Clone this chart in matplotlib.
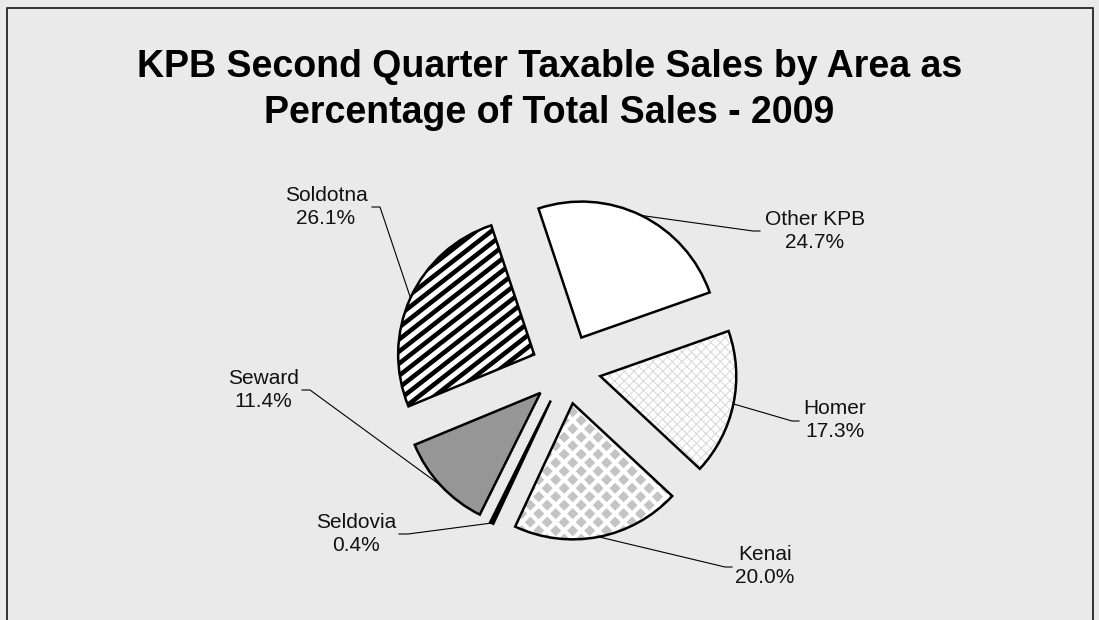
import numpy as np
import matplotlib.pyplot as plt
from matplotlib.patches import Wedge
from matplotlib.collections import LineCollection

# data
areas = ['Other KPB', 'Homer', 'Kenai', 'Seldovia', 'Seward', 'Soldotna']
shares = [24.7, 17.3, 20.0, 0.4, 11.4, 26.1]
title_lines = ['KPB Second Quarter Taxable Sales by Area as',
               'Percentage of Total Sales - 2009']

W, H = 1099, 620          # figure in pixels, axes use pixel units
BG = '#eaeaea'

# label block centres / leader elbows / tail ends (image pixels, y down)
label_pos = [(815, 231), (835, 420), (765, 566), (356, 534), (263, 390), (326, 207)]
elbows = [(753, 231), (792, 421), (725, 567), (408, 534), (310, 390), (380, 207)]
tail_x = [760, 799, 732, 399, 302, 372]

faces = ['white', 'white', '#c4c4c4', 'black', '#969696', 'white']

plt.rcParams['font.family'] = ['Liberation Sans', 'DejaVu Sans']


def hatch_lines(ax, wedge, angle, gap, lw, color):
    # parallel lines clipped to a wedge (fake excel fill pattern)
    cx, cy = wedge.center
    r = wedge.r
    a = np.radians(angle)
    u = np.array([np.cos(a), np.sin(a)])
    n = np.array([-np.sin(a), np.cos(a)])
    c = np.array([cx, cy])
    m = int(np.ceil(r / gap)) + 1
    segs = [[c + k * gap * n - 1.2 * r * u, c + k * gap * n + 1.2 * r * u]
            for k in range(-m, m + 1)]
    lc = LineCollection(segs, colors=color, linewidths=lw, zorder=2)
    ax.add_collection(lc)
    lc.set_clip_path(wedge)


fig = plt.figure(figsize=(W / 100, H / 100), dpi=100, facecolor=BG)
ax = fig.add_axes([0, 0, 1, 1])

wedges, _ = ax.pie(shares, startangle=108.4, counterclock=False, radius=136,
                   center=(566, H - 369), explode=[35] * len(shares),
                   colors=faces, wedgeprops=dict(edgecolor='none', linewidth=0))
ax.set_xlim(0, W)
ax.set_ylim(0, H)
ax.set_aspect('auto')
ax.axis('off')

# fill patterns
hatch_lines(ax, wedges[1], 45, 6.8, 0.6, '#cfcfcf')
hatch_lines(ax, wedges[1], -45, 6.8, 0.6, '#cfcfcf')
hatch_lines(ax, wedges[2], 45, 12, 3.0, 'white')
hatch_lines(ax, wedges[2], -45, 12, 3.0, 'white')
hatch_lines(ax, wedges[5], 38, 9.5, 3.3, 'black')

# outlines on top
for w in wedges:
    ax.add_patch(Wedge(w.center, w.r, w.theta1, w.theta2, fill=False,
                       edgecolor='black', linewidth=1.8, zorder=3))

# labels with leader lines from the middle of each arc
for w, name, val, (lx, ly), (ex, ey), tx in zip(wedges, areas, shares,
                                                label_pos, elbows, tail_x):
    tm = np.radians((w.theta1 + w.theta2) / 2)
    sx = w.center[0] + w.r * np.cos(tm)
    sy = w.center[1] + w.r * np.sin(tm)
    ax.plot([sx, ex, tx], [sy, H - ey, H - ey], color='black', lw=0.8, zorder=4)
    ax.text(lx, H - ly, '%s\n%.1f%%' % (name, val), ha='center', va='center',
            fontsize=15, linespacing=1.3, color='#111111')

# title
fig.text(0.5, 1 - 77 / H, title_lines[0], ha='center', va='baseline',
         fontsize=27, fontweight='bold')
fig.text(0.5, 1 - 123 / H, title_lines[1], ha='center', va='baseline',
         fontsize=27, fontweight='bold')

# chart area border (bottom edge is off the picture)
ax.plot([7, 7, 1093, 1093], [0, H - 7.5, H - 7.5, 0], color='#333333',
        lw=1.4, clip_on=False, zorder=5)

fig.savefig('out.png', dpi=100, facecolor=BG)
